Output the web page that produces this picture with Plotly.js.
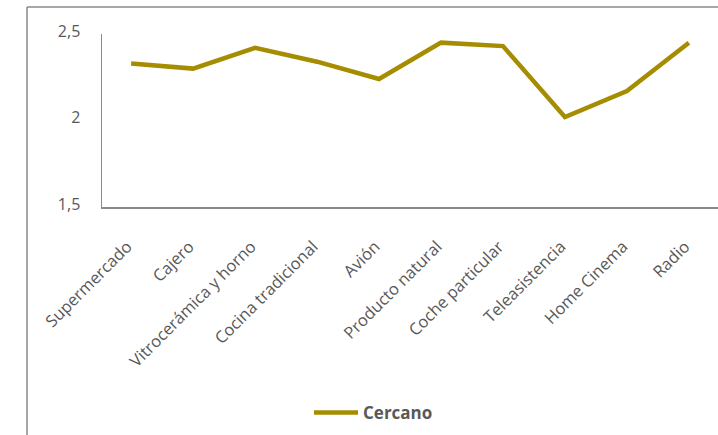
<!DOCTYPE html>
<html>
<head>
<meta charset="utf-8">
<script src="https://cdn.plot.ly/plotly-3.0.1.min.js"></script>
<style>html,body{margin:0;padding:0;background:#fff;}#chart{width:718px;height:435px;}</style>
</head>
<body>
<div id="chart"></div>
<script>
var categories = ["Supermercado", "Cajero", "Vitrocerámica y horno", "Cocina tradicional", "Avión", "Producto natural", "Coche particular", "Teleasistencia", "Home Cinema", "Radio"];
var cercano = [2.33, 2.30, 2.42, 2.34, 2.24, 2.45, 2.43, 2.02, 2.17, 2.45];
var yTickVals = [1.5, 2, 2.5];
var yTickText = ["1,5", "2", "2,5"];
var seriesName = "Cercano";

var trace = {
  x: categories,
  y: cercano,
  type: "scatter",
  mode: "lines",
  name: seriesName,
  line: {color: "#a68c00", width: 4.5},
  showlegend: true
};

var frameColor = "#8a8a8a";
var W = 718, H = 435, L = 102, R = 0, T = 34, B = 228;
var pw = W - L - R, ph = H - T - B;
function px(xp){ return (xp - L) / pw; }
function py(yp){ return (H - B - yp) / ph; }

var layout = {
  width: W, height: H,
  margin: {l: L, r: R, t: T, b: B, pad: 0},
  paper_bgcolor: "#ffffff",
  plot_bgcolor: "#ffffff",
  font: {family: "Open Sans, sans-serif", color: "#595959", size: 16},
  xaxis: {
    type: "category",
    range: [-0.47, 9.47],
    showgrid: false,
    zeroline: false,
    showline: true,
    linecolor: frameColor,
    linewidth: 1.5,
    ticks: "outside",
    ticklen: 22,
    tickcolor: "rgba(0,0,0,0)",
    tickangle: -45,
    ticklabelshift: -4,
    tickfont: {family: "Open Sans, sans-serif", size: 16.5, color: "#595959"}
  },
  yaxis: {
    range: [1.5, 2.5],
    tickvals: yTickVals,
    ticktext: yTickText,
    showgrid: false,
    zeroline: false,
    showline: true,
    linecolor: frameColor,
    linewidth: 1.5,
    ticks: "outside",
    ticklen: 17,
    tickcolor: "rgba(0,0,0,0)",
    ticklabelshift: -3,
    tickfont: {family: "Open Sans, sans-serif", size: 16, color: "#595959"}
  },
  showlegend: true,
  legend: {
    orientation: "h",
    x: px(309), y: py(413),
    xanchor: "left", yanchor: "middle",
    itemwidth: 44,
    font: {family: "Open Sans, sans-serif", size: 17, color: "#595959", weight: "bold"},
    bgcolor: "rgba(0,0,0,0)"
  },
  shapes: [
    {type: "line", xref: "paper", yref: "paper", x0: px(27), x1: px(27), y0: py(7), y1: py(440), line: {color: frameColor, width: 1.5}},
    {type: "line", xref: "paper", yref: "paper", x0: px(27), x1: px(720), y0: py(7), y1: py(7), line: {color: frameColor, width: 1.5}}
  ]
};

Plotly.newPlot("chart", [trace], layout, {displayModeBar: false, staticPlot: true});
</script>
</body>
</html>
